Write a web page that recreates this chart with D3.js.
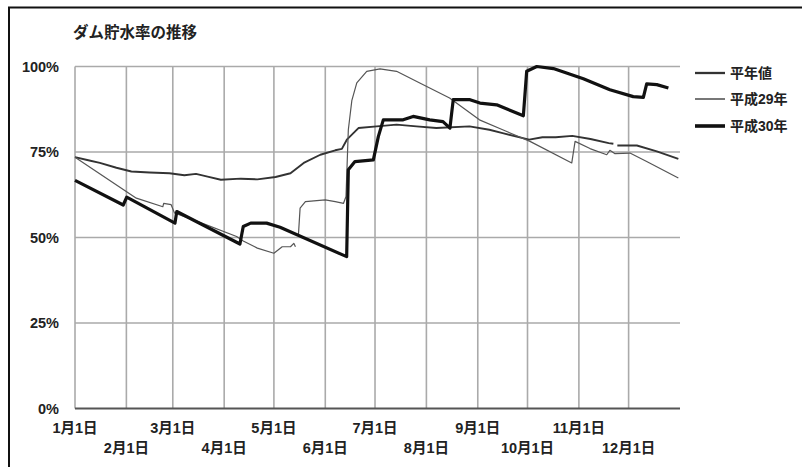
<!DOCTYPE html>
<html><head><meta charset="utf-8">
<script src="https://cdn.jsdelivr.net/npm/d3@7"></script>
<style>
html,body{margin:0;padding:0;background:#fff;}
svg text{font-family:"Liberation Sans","Noto Sans CJK JP",sans-serif;font-weight:bold;fill:#222;}
</style></head><body>
<svg id="c" width="802" height="467"></svg>
<script>
const title = "ダム貯水率の推移";
const seriesNames = ["平年値", "平成29年", "平成30年"];
const yTicks = [0, 25, 50, 75, 100];
const monthLabels = ["1月1日","2月1日","3月1日","4月1日","5月1日","6月1日","7月1日","8月1日","9月1日","10月1日","11月1日","12月1日"];
// [day of year (0 = Jan 1), storage %]; null = gap in the line
const normalData = [[0,73.5],[8,72.6],[15,71.8],[25,70.4],[34,69.3],[45,69.0],[57,68.8],[66,68.2],[73,68.6],[80,67.8],[88,66.9],[100,67.2],[110,67.0],[121,67.7],[130,68.8],[138,71.8],[148,74.2],[157,75.5],[161,75.9],[164,78.6],[171,82.0],[182,82.5],[194,83.0],[206,82.5],[218,82.0],[238,82.5],[250,81.5],[258,80.5],[274,78.6],[282,79.3],[290,79.3],[300,79.7],[311,78.8],[322,77.6],[324.8,77.4],null,[327.2,76.9],[339,76.9],[351,75.2],[364,73.0]];
const h29Data = [[0,73.5],[37,61.5],[53,59.0],[53.5,60.0],[58,59.6],[60,57.2],[75,54.5],[97.5,50.3],[101.5,49.0],[110,46.9],[120,45.4],[125,47.3],[130,47.3],[132,48.3],[133,47.3],null,[134.8,50.8],[135.8,58.6],[139,60.5],[151,61.0],[157,60.5],[162,60.0],[163.5,62.0],[164.9,81.5],[167,90],[170,95.2],[176,98.6],[184,99.3],[194,98.6],[208,95.2],[226,90.8],[244,84.4],[258,81.5],[274.5,78.1],[299.7,71.8],[301.7,78.1],[310.7,76.0],[320.8,74.2],[322.7,75.5],[325.8,74.5],[334.8,74.7],[344.9,72.2],[364,67.4]];
const h30Data = [[0,66.7],[29.1,59.5],[31.2,61.8],[60.3,54.2],[61.4,57.6],[99.5,48.1],[101.5,53.2],[106,54.2],[115.6,54.2],[123.7,53.0],[163.9,44.4],[164.9,69.8],[168.9,72.2],[180,72.7],[183,79.5],[186,84.4],[198,84.4],[204,85.4],[214,84.4],[222,83.9],[226.2,82.0],[228.2,90.3],[238.3,90.3],[244.3,89.3],[254.4,88.8],[270.5,85.6],[272.5,98.6],[278.6,100],[288.6,99.4],[306.7,96.4],[322.7,93.2],[336.8,91.2],[342.9,91.0],[344.9,94.9],[351,94.7],[358,93.7]];

const svg = d3.select("#c");
const start = new Date(Date.UTC(2018,0,1));
const end = new Date(Date.UTC(2019,0,1));
const toDate = d => new Date(start.getTime() + d*864e5);
const x = d3.scaleUtc().domain([start, end]).range([75, 680]);
const y = d3.scaleLinear().domain([0,100]).range([408.5, 66.5]);

// frame
svg.append("path").attr("d","M9,467 L9,7.5 L802,7.5").attr("fill","none").attr("stroke","#111").attr("stroke-width",2);

svg.append("text").attr("x",73).attr("y",38).attr("font-size",15.5).text(title);

const months = d3.utcMonth.range(start, end);
// vertical grid
svg.append("g").selectAll("line").data(months).join("line")
  .attr("x1",d=>x(d)).attr("x2",d=>x(d)).attr("y1",y(100)).attr("y2",y(0))
  .attr("stroke","#aaa").attr("stroke-width",1.6);
// horizontal grid
svg.append("g").selectAll("line").data(yTicks).join("line")
  .attr("x1",x.range()[0]).attr("x2",x.range()[1]).attr("y1",d=>y(d)).attr("y2",d=>y(d))
  .attr("stroke",d=>d===0?"#555":"#aaa").attr("stroke-width",d=>d===0?2:1.6);

// y labels
svg.append("g").selectAll("text").data(yTicks).join("text")
  .attr("x",59).attr("y",d=>y(d)+5).attr("text-anchor","end").attr("font-size",14.5)
  .text(d=>d+"%");
// x labels staggered
svg.append("g").selectAll("text").data(months).join("text")
  .attr("x",d=>x(d)).attr("y",(d,i)=>i%2===0?433:453).attr("text-anchor","middle").attr("font-size",14.5)
  .text((d,i)=>monthLabels[i]);

const line = d3.line().defined(d=>d!==null).x(d=>x(toDate(d[0]))).y(d=>y(d[1]));
const styles = [
  {data:normalData, color:"#333", w:1.9},
  {data:h29Data, color:"#555", w:1.2},
  {data:h30Data, color:"#111", w:3.2}
];
styles.forEach(s=>{
  svg.append("path").datum(s.data).attr("d",line).attr("fill","none")
    .attr("stroke",s.color).attr("stroke-width",s.w).attr("stroke-linejoin","round");
});

// legend
const lg = svg.append("g");
const legY = [73, 99, 126];
styles.forEach((s,i)=>{
  lg.append("line").attr("x1",695).attr("x2",725).attr("y1",legY[i]).attr("y2",legY[i])
    .attr("stroke",s.color).attr("stroke-width",s.w+0.4);
  lg.append("text").attr("x",730).attr("y",legY[i]+5).attr("font-size",14).text(seriesNames[i]);
});
</script></body></html>
